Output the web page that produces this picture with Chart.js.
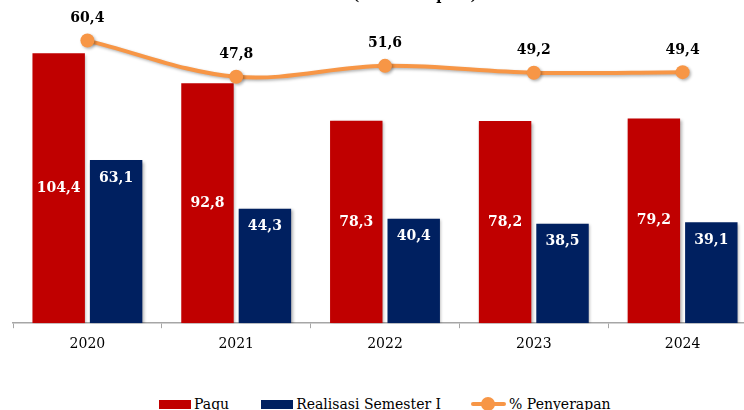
<!DOCTYPE html>
<html>
<head>
<meta charset="utf-8">
<script src="https://cdn.jsdelivr.net/npm/chart.js@4.4.1/dist/chart.umd.min.js"></script>
<style>
    html, body { margin: 0; padding: 0; background: #fff; overflow: hidden; width: 744px; height: 410px; }
    #wrap { position: absolute; left: 0; top: 0; width: 764px; height: 361px; }
    #legend { position: absolute; left: 159px; top: 396px; display: flex; align-items: center; font-family: "DejaVu Serif", serif; font-size: 14px; color: #000; white-space: nowrap; }
    #legend .item { display: flex; align-items: center; }
    #legend .box { display: inline-block; width: 32px; height: 9px; margin-right: 3px; }
    #legend .ln { display: inline-block; position: relative; width: 35px; height: 4px; background: #F79646; margin-right: 3px; border-radius: 2px; }
    #legend .ln i { position: absolute; left: 10px; top: -5px; width: 14px; height: 14px; border-radius: 7px; background: #F79646; }
</style>
</head>
<body>
<div id="wrap"><canvas id="chart" width="764" height="361"></canvas></div>
<div id="legend">
    <span class="item" style="margin-right:32px"><span class="box" style="background:#C00000"></span>Pagu</span>
    <span class="item" style="margin-right:30px"><span class="box" style="background:#002060"></span>Realisasi Semester I</span>
    <span class="item"><span class="ln"><i></i></span>% Penyerapan</span>
</div>
<script>
var years = ["2020", "2021", "2022", "2023", "2024"];
var pagu = [104.4, 92.8, 78.3, 78.2, 79.2];
var realisasi = [63.1, 44.3, 40.4, 38.5, 39.1];
var penyerapan = [60.4, 47.8, 51.6, 49.2, 49.4];

var serif = "'DejaVu Serif', serif";

function fmt(v) {
    return v.toFixed(1).replace(".", ",");
}

// shadow under bars and line, like the office chart
var shadowPlugin = {
    id: 'shadow',
    beforeDatasetDraw: function (chart, args) {
        var c = chart.ctx;
        c.save();
        c.shadowColor = 'rgba(0,0,0,0.3)';
        c.shadowBlur = 3;
        c.shadowOffsetX = 1.5;
        c.shadowOffsetY = 1.5;
    },
    afterDatasetDraw: function (chart, args) {
        chart.ctx.restore();
    }
};

var labelPlugin = {
    id: 'labels',
    afterDatasetsDraw: function (chart) {
        var c = chart.ctx;
        c.save();
        c.font = "bold 14px " + serif;
        c.textAlign = 'center';
        c.textBaseline = 'middle';

        chart.getDatasetMeta(0).data.forEach(function (bar, i) {
            c.fillStyle = '#fff';
            c.fillText(fmt(pagu[i]), bar.x, (bar.y + bar.base) / 2);
        });
        chart.getDatasetMeta(1).data.forEach(function (bar, i) {
            c.fillStyle = '#fff';
            c.fillText(fmt(realisasi[i]), bar.x, bar.y + 18);
        });
        chart.getDatasetMeta(2).data.forEach(function (pt, i) {
            c.fillStyle = '#000';
            c.fillText(fmt(penyerapan[i]), pt.x, pt.y - 22);
        });

        // title, mostly cut off at the top
        c.textBaseline = 'alphabetic';
        c.fillText("(triliun Rupiah)", 415, 0);
        c.restore();
    }
};

new Chart(document.getElementById("chart"), {
    type: 'bar',
    data: {
        labels: years,
        datasets: [{
            label: 'Pagu',
            data: pagu,
            backgroundColor: '#C00000',
            yAxisID: 'y',
            order: 2
        }, {
            label: 'Realisasi Semester I',
            data: realisasi,
            backgroundColor: '#002060',
            yAxisID: 'y',
            order: 2
        }, {
            type: 'line',
            label: '% Penyerapan',
            data: penyerapan,
            borderColor: '#F79646',
            backgroundColor: '#F79646',
            borderWidth: 4,
            pointRadius: 7,
            pointBorderWidth: 0,
            tension: 0.35,
            yAxisID: 'y2',
            order: 1
        }]
    },
    options: {
        responsive: false,
        animation: false,
        categoryPercentage: 0.772,
        barPercentage: 0.913,
        layout: {
            padding: { left: 13, right: 5, top: 13, bottom: 0 }
        },
        plugins: {
            legend: { display: false },
            tooltip: { enabled: false }
        },
        scales: {
            x: {
                grid: {
                    display: true,
                    offset: true,
                    drawOnChartArea: false,
                    drawTicks: true,
                    tickLength: 5,
                    color: '#a6a6a6'
                },
                border: { color: '#a6a6a6', width: 1.5 },
                ticks: {
                    color: '#000',
                    padding: 8,
                    font: { family: serif, size: 14 }
                }
            },
            y: {
                display: false,
                min: 0,
                max: 120
            },
            y2: {
                display: false,
                min: -38,
                max: 70
            }
        }
    },
    plugins: [shadowPlugin, labelPlugin]
});
</script>
</body>
</html>
